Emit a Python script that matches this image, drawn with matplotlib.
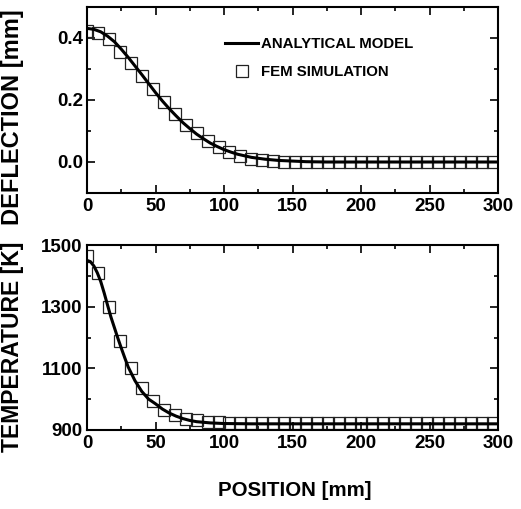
import matplotlib
matplotlib.use("Agg")
import matplotlib.pyplot as plt
from matplotlib.ticker import MultipleLocator, FixedLocator, FixedFormatter

FAM = ['Liberation Sans', 'DejaVu Sans']
plt.rcParams['font.family'] = FAM
plt.rcParams['font.weight'] = 'bold'

# ---------------- data ----------------
fem_x = [0, 8, 16, 24, 32, 40, 48, 56, 64, 72, 80, 88, 96, 104, 112, 120, 128,
         136, 144, 152, 160, 168, 176, 184, 192, 200, 208, 216, 224, 232, 240,
         248, 256, 264, 272, 280, 288, 296]

defl_fem = [0.424, 0.417, 0.396, 0.356, 0.318, 0.276, 0.234, 0.195, 0.156,
            0.120, 0.093, 0.069, 0.047, 0.031, 0.019, 0.010, 0.005, 0.002,
            0.001, 0.0, 0.0, 0.0, 0.0, 0.0, 0.0, 0.0, 0.0, 0.0, 0.0, 0.0, 0.0,
            0.0, 0.0, 0.0, 0.0, 0.0, 0.0, 0.0]

temp_fem = [1465, 1409, 1299, 1190, 1100, 1037, 995, 965, 948, 937, 931, 927,
            925, 924, 924, 924, 924, 924, 924, 924, 924, 924, 924, 924, 924,
            924, 924, 924, 924, 924, 924, 924, 924, 924, 924, 924, 924, 924]

defl_model_x = [0, 5, 10, 15, 20, 25, 30, 35, 40, 45, 50, 55, 60, 65, 70, 75,
                80, 85, 90, 95, 100, 105, 110, 115, 120, 125, 130, 135, 140,
                145, 150, 155, 160, 175, 200, 250, 300]
defl_model = [0.431, 0.428, 0.420, 0.406, 0.388, 0.364, 0.338, 0.310, 0.282,
              0.253, 0.224, 0.197, 0.172, 0.149, 0.127, 0.108, 0.090, 0.075,
              0.061, 0.050, 0.040, 0.032, 0.025, 0.020, 0.015, 0.012, 0.009,
              0.007, 0.005, 0.004, 0.003, 0.002, 0.001, 0.0, 0.0, 0.0, 0.0]

temp_model_x = [0, 2.5, 5, 7.5, 10, 12.5, 15, 17.5, 20, 22.5, 25, 27.5, 30, 35,
                40, 45, 50, 55, 60, 65, 70, 75, 80, 90, 100, 120, 150, 200, 300]
temp_model = [1450, 1446, 1432, 1410, 1382, 1345, 1305, 1266, 1232, 1198, 1166,
              1135, 1105, 1060, 1025, 1000, 985, 968, 955, 945, 937, 931, 927,
              923, 921, 920, 920, 920, 920]

x_ticks = [0, 50, 100, 150, 200, 250, 300]
x_labels = ['0', '50', '100', '150', '200', '250', '300']
defl_ticks = [0.0, 0.2, 0.4]
defl_labels = ['0.0', '0.2', '0.4']
temp_ticks = [900, 1100, 1300, 1500]
temp_labels = ['900', '1100', '1300', '1500']

# ---------------- figure ----------------
W, H = 521, 509
fig = plt.figure(figsize=(W / 100, H / 100), dpi=100)
ax1 = fig.add_axes([87 / W, 1 - 193 / H, 411 / W, 186 / H])
ax2 = fig.add_axes([87 / W, 1 - 430 / H, 411 / W, 185 / H])

TICK_FS = 13.5

def style(ax):
    for s in ax.spines.values():
        s.set_linewidth(1.5)
    ax.tick_params(which='both', direction='in', top=True, right=True,
                   width=1.2, labelsize=TICK_FS)
    ax.tick_params(which='major', length=5.5)
    ax.tick_params(which='minor', length=3)
    ax.tick_params(axis='x', pad=3.5)
    ax.tick_params(axis='y', pad=3)
    ax.set_xlim(0, 300)
    ax.xaxis.set_major_locator(FixedLocator(x_ticks))
    ax.xaxis.set_major_formatter(FixedFormatter(x_labels))
    ax.xaxis.set_minor_locator(MultipleLocator(25))
    for lab in ax.get_xticklabels() + ax.get_yticklabels():
        lab.set_fontweight('bold')

# top panel
ln, = ax1.plot(defl_model_x, defl_model, color='black', lw=2.2, zorder=3,
               label='ANALYTICAL MODEL')
sq, = ax1.plot(fem_x, defl_fem, linestyle='none', marker='s', ms=8.2,
               mfc='none', mec='#222222', mew=0.9, zorder=2,
               label='FEM SIMULATION')
ax1.set_ylim(-0.1, 0.5)
ax1.yaxis.set_major_locator(FixedLocator(defl_ticks))
ax1.yaxis.set_major_formatter(FixedFormatter(defl_labels))
ax1.yaxis.set_minor_locator(MultipleLocator(0.1))
style(ax1)
ax1.set_ylabel('DEFLECTION [mm]', fontsize=17, fontweight='bold')
ax1.yaxis.set_label_coords(-0.1545, 0.406)

leg = ax1.legend(handles=[ln, sq], loc='upper left',
                 bbox_to_anchor=((225 - 87) / 411, (193 - 37) / 186),
                 frameon=False, borderpad=0, borderaxespad=0,
                 handlelength=2.2, handletextpad=0.2, labelspacing=0.95,
                 prop={'family': FAM, 'weight': 'bold', 'size': 10.8})

# bottom panel
ax2.plot(temp_model_x, temp_model, color='black', lw=2.2, zorder=3)
ax2.plot(fem_x, temp_fem, linestyle='none', marker='s', ms=8.2,
         mfc='none', mec='#222222', mew=0.9, zorder=2)
ax2.set_ylim(900, 1500)
ax2.yaxis.set_major_locator(FixedLocator(temp_ticks))
ax2.yaxis.set_major_formatter(FixedFormatter(temp_labels))
ax2.yaxis.set_minor_locator(MultipleLocator(100))
style(ax2)
ax2.set_ylabel('TEMPERATURE [K]', fontsize=16.5, fontweight='bold')
ax2.yaxis.set_label_coords(-0.153, 0.451)

fig.text(295 / W, 1 - 490 / H, 'POSITION [mm]', ha='center', va='center',
         fontsize=14.8, fontweight='bold')

fig.savefig('out.png', dpi=100)
